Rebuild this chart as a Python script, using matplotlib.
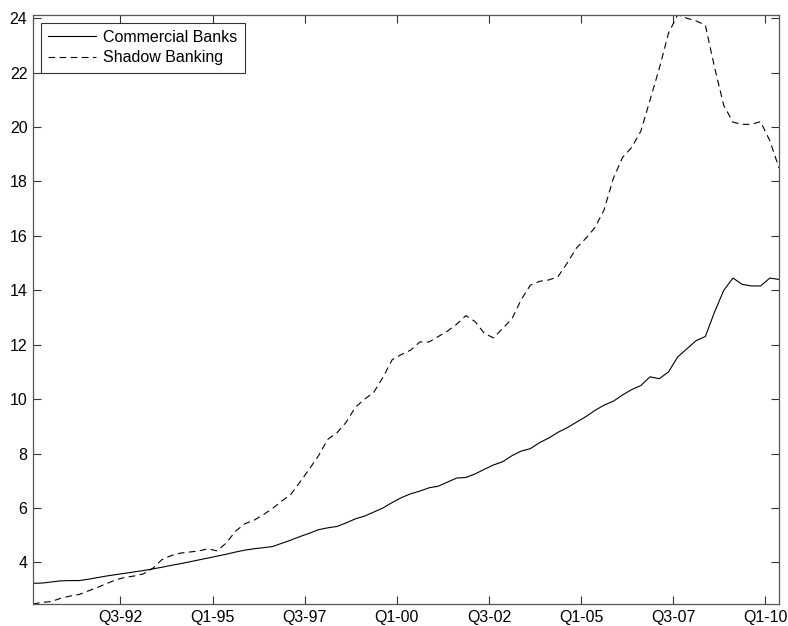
import matplotlib
matplotlib.use("Agg")
import matplotlib.pyplot as plt
import numpy as np

# quarterly data, Q1-90 .. Q2-10 (dated mid-quarter)
start_year = 1990.125
commercial_banks = [
    3.23, 3.24, 3.28, 3.32, 3.33, 3.33, 3.38, 3.44, 3.50, 3.55,
    3.60, 3.65, 3.70, 3.76, 3.82, 3.89, 3.95, 4.02, 4.09, 4.16,
    4.23, 4.30, 4.38, 4.45, 4.50, 4.54, 4.58, 4.70, 4.82, 4.95,
    5.07, 5.20, 5.27, 5.32, 5.45, 5.60, 5.70, 5.85, 6.00, 6.20,
    6.38, 6.52, 6.62, 6.74, 6.80, 6.95, 7.10, 7.12, 7.25, 7.42,
    7.58, 7.70, 7.92, 8.09, 8.18, 8.40, 8.57, 8.78, 8.95, 9.15,
    9.35, 9.58, 9.78, 9.92, 10.15, 10.35, 10.50, 10.82, 10.75, 11.00,
    11.55, 11.85, 12.15, 12.30, 13.20, 14.00, 14.45, 14.22, 14.16, 14.16,
    14.45, 14.40,
]
shadow_banking = [
    2.47, 2.53, 2.56, 2.68, 2.76, 2.82, 2.95, 3.08, 3.22, 3.36,
    3.45, 3.50, 3.58, 3.78, 4.10, 4.25, 4.34, 4.38, 4.42, 4.50,
    4.42, 4.72, 5.15, 5.42, 5.55, 5.75, 5.98, 6.25, 6.50, 6.96,
    7.43, 7.92, 8.52, 8.76, 9.15, 9.70, 10.00, 10.25, 10.80, 11.45,
    11.64, 11.80, 12.10, 12.10, 12.30, 12.50, 12.75, 13.07, 12.85, 12.42,
    12.25, 12.60, 12.95, 13.65, 14.19, 14.33, 14.38, 14.50, 15.00, 15.55,
    15.90, 16.30, 16.95, 18.10, 18.88, 19.25, 19.85, 21.00, 22.15, 23.45,
    24.13, 24.00, 23.90, 23.75, 22.20, 20.80, 20.18, 20.10, 20.10, 20.20,
    19.50, 18.50,
]
tick_years = [1992.5, 1995.0, 1997.5, 2000.0, 2002.5, 2005.0, 2007.5, 2010.0]
tick_labels = ["Q3-92", "Q1-95", "Q3-97", "Q1-00", "Q3-02", "Q1-05", "Q3-07", "Q1-10"]
y_ticks = [4, 6, 8, 10, 12, 14, 16, 18, 20, 22, 24]

plt.rcParams["font.family"] = ["Liberation Sans", "DejaVu Sans"]

t = start_year + 0.25 * np.arange(len(commercial_banks))

fig = plt.figure(figsize=(7.88, 6.26), dpi=100)
ax = fig.add_axes([33 / 788, 1 - 604 / 626, 746 / 788, (604 - 14.7) / 626])

ax.plot(t, commercial_banks, color="black", lw=0.8, label="Commercial Banks")
ax.plot(t, shadow_banking, color="black", lw=0.8, linestyle=(0, (6, 4)), label="Shadow Banking")

ax.set_xlim(t[0], t[-1])
ax.set_ylim(min(shadow_banking), max(shadow_banking))
ax.set_xticks(tick_years)
ax.set_xticklabels(tick_labels)
ax.set_yticks(y_ticks)

for s in ax.spines.values():
    s.set_color("#555555")
    s.set_linewidth(0.9)
ax.tick_params(direction="in", length=6, width=0.8, color="#333333",
               top=True, right=True, labelsize=11.5, pad=4)

leg = ax.legend(loc="upper left", fontsize=11.5, frameon=True, fancybox=False,
                edgecolor="black", handlelength=3.0, borderaxespad=0.5,
                borderpad=0.45, labelspacing=0.35, handletextpad=0.45)
leg.get_frame().set_linewidth(0.8)

fig.savefig("out.png", dpi=100)
